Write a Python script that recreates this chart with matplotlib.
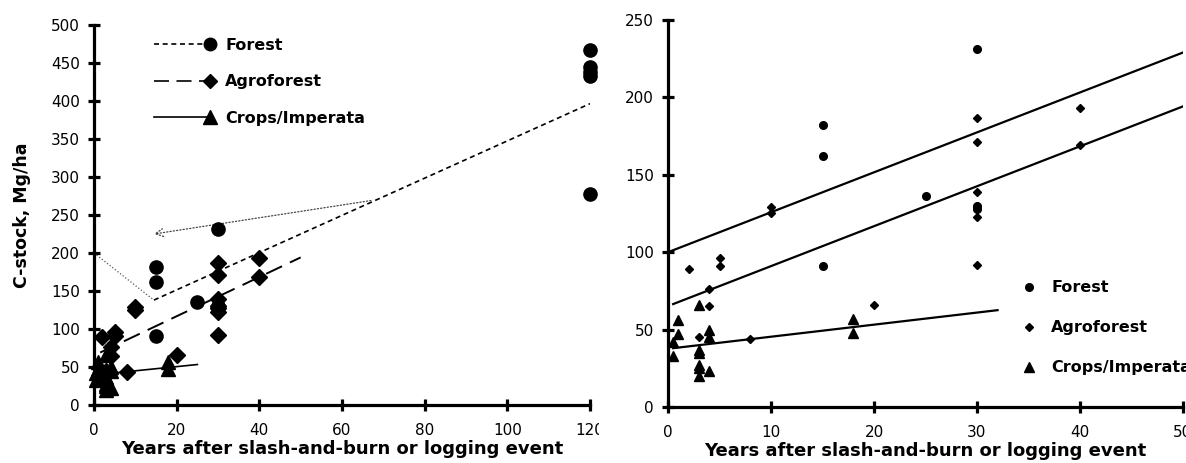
import matplotlib
matplotlib.use('Agg')
import matplotlib.pyplot as plt
from matplotlib.legend_handler import HandlerLine2D
from matplotlib.lines import Line2D
from matplotlib.patches import Rectangle
import numpy as np

plt.rcParams['font.family'] = ['DejaVu Sans']

# C-stock observations (Mg/ha) by years since slash-and-burn / logging
forest_years = [15, 15, 15, 25, 30, 30, 30, 120, 120, 120, 120, 120]
forest_c = [182, 162, 91, 136, 231, 130, 128, 467, 445, 438, 433, 277]

agro_years = [2, 3, 4, 4, 5, 5, 8, 10, 10, 20, 30, 30, 30, 30, 30, 30, 30, 40, 40]
agro_c = [89, 45, 76, 65, 96, 91, 44, 129, 125, 66, 187, 171, 139, 130, 128, 123, 92, 193, 169]

crops_years = [0.5, 0.5, 1, 1, 3, 3, 3, 3, 3, 3, 4, 4, 4, 18, 18]
crops_c = [42, 33, 56, 47, 66, 37, 35, 27, 25, 20, 50, 45, 23, 57, 48]

# linear fits: (intercept, slope, x start, x end)
fit_left = {
    'Forest': (102.5, 2.45, 14.5, 120),
    'Agroforest': (65.2, 2.58, 1.5, 50),
    'Crops/Imperata': (39.5, 0.55, 0.5, 25),
}
fit_right = {
    'Forest': (100.0, 2.58, 0, 50),
    'Agroforest': (65.2, 2.58, 0.5, 50),
    'Crops/Imperata': (37.6, 0.78, 0.5, 32),
}

labels = ['Forest', 'Agroforest', 'Crops/Imperata']
left_ticks_x = [0, 20, 40, 60, 80, 100, 120]
left_ticks_y = [0, 50, 100, 150, 200, 250, 300, 350, 400, 450, 500]
right_ticks_x = [0, 10, 20, 30, 40, 50]
right_ticks_y = [0, 50, 100, 150, 200, 250]

xlabel = 'Years after slash-and-burn or logging event'

W, H = 1186, 463
fig = plt.figure(figsize=(W / 100, H / 100), dpi=100)


def px_axes(x0, x1, y_top, y_bot):
    return fig.add_axes([x0 / W, 1 - y_bot / H, (x1 - x0) / W, (y_bot - y_top) / H])


def style_axes(ax, xt, yt):
    for s in ['top', 'right']:
        ax.spines[s].set_visible(False)
    for s in ['left', 'bottom']:
        ax.spines[s].set_linewidth(2.3)
    ax.set_xticks(xt)
    ax.set_yticks(yt)
    ax.tick_params(direction='inout', length=8.5, width=2.3, labelsize=11)
    ax.tick_params(axis='y', pad=6)
    ax.tick_params(axis='x', pad=9)


class EndMarker(HandlerLine2D):
    # legend entry: line first, marker sitting at its right end
    def create_artists(self, legend, orig_handle, xdescent, ydescent,
                       width, height, fontsize, trans):
        x0, x1 = -xdescent, -xdescent + width
        y = (height - ydescent) / 2
        line = Line2D([x0, x1], [y, y])
        self.update_prop(line, orig_handle, legend)
        line.set_marker('None')
        mark = Line2D([x1], [y])
        self.update_prop(mark, orig_handle, legend)
        mark.set_linestyle('None')
        line.set_transform(trans)
        mark.set_transform(trans)
        return [line, mark]


# ---- left panel: all sites, up to 120 years ----
ax1 = px_axes(94, 590, 25, 405)
style_axes(ax1, left_ticks_x, left_ticks_y)
ax1.set_xlim(0, 120)
ax1.set_ylim(0, 500)

ax1.plot(forest_years, forest_c, 'o', color='black', ms=9.5, clip_on=False, zorder=4)
ax1.plot(agro_years, agro_c, 'D', color='black', ms=8, clip_on=False, zorder=4)
ax1.plot(crops_years, crops_c, '^', color='black', ms=10.5, clip_on=False, zorder=4)

dash_left = {'Forest': (0, (3, 2.2)), 'Agroforest': (0, (9, 4.5)), 'Crops/Imperata': '-'}
lw_left = {'Forest': 1.2, 'Agroforest': 1.4, 'Crops/Imperata': 1.2}
for name in labels:
    b0, b1, xa, xb = fit_left[name]
    xs = np.array([xa, xb])
    ax1.plot(xs, b0 + b1 * xs, color='black', ls=dash_left[name], lw=lw_left[name], zorder=3)

# dotted guide lines showing the shift of the forest curve
ax1.plot([0, 14.5], [200, 138], color='#555555', ls=':', lw=0.9, zorder=2)
ax1.annotate('', xy=(14.5, 225), xytext=(67, 269),
             arrowprops=dict(arrowstyle='->', color='#444444', ls=':', lw=0.9,
                             shrinkA=0, shrinkB=0, mutation_scale=14))

ax1.set_ylabel('C-stock, Mg/ha', fontsize=12.5, fontweight='bold', labelpad=14)
ax1.set_xlabel(xlabel, fontsize=13, fontweight='bold', labelpad=1)

h_left = [
    Line2D([], [], color='black', ls=(0, (3, 2.2)), lw=1.2, marker='o', ms=9),
    Line2D([], [], color='black', ls=(0, (9, 4.5)), lw=1.2, marker='D', ms=7.5),
    Line2D([], [], color='black', ls='-', lw=1.2, marker='^', ms=9.5),
]
ax1.legend(h_left, labels, loc='upper left', bbox_to_anchor=(0.115, 0.975),
           frameon=False, handlelength=3.5, handletextpad=0.95,
           labelspacing=1.35, borderpad=0.2, borderaxespad=0,
           prop={'weight': 'bold', 'size': 11.5},
           handler_map={Line2D: EndMarker()})

# ---- right panel: first 50 years ----
ax2 = px_axes(668, 1183, 20, 407)
style_axes(ax2, right_ticks_x, right_ticks_y)
ax2.set_xlim(0, 50)
ax2.set_ylim(0, 250)

p1, = ax2.plot(forest_years, forest_c, 'o', color='black', ms=5.5, zorder=4)
p2, = ax2.plot(agro_years, agro_c, 'D', color='black', ms=4.5, zorder=4)
p3, = ax2.plot(crops_years, crops_c, '^', color='black', ms=6.5, zorder=4)
for name in labels:
    b0, b1, xa, xb = fit_right[name]
    xs = np.array([xa, xb])
    ax2.plot(xs, b0 + b1 * xs, color='black', lw=1.6, zorder=3)

ax2.set_xlabel(xlabel, fontsize=13, fontweight='bold', labelpad=1)
ax2.legend([p1, p2, p3], labels, loc='upper left', bbox_to_anchor=(0.685, 0.327),
           frameon=False, handlelength=1.0, handletextpad=0.9, labelspacing=1.56,
           borderpad=0, borderaxespad=0, prop={'weight': 'bold', 'size': 11.5})

# the left graph is cropped just past its last tick label
fig.patches.append(Rectangle((599 / W, 0), 14 / W, 1, transform=fig.transFigure,
                             facecolor='white', edgecolor='none', zorder=10))

fig.savefig('out.png', dpi=100)
